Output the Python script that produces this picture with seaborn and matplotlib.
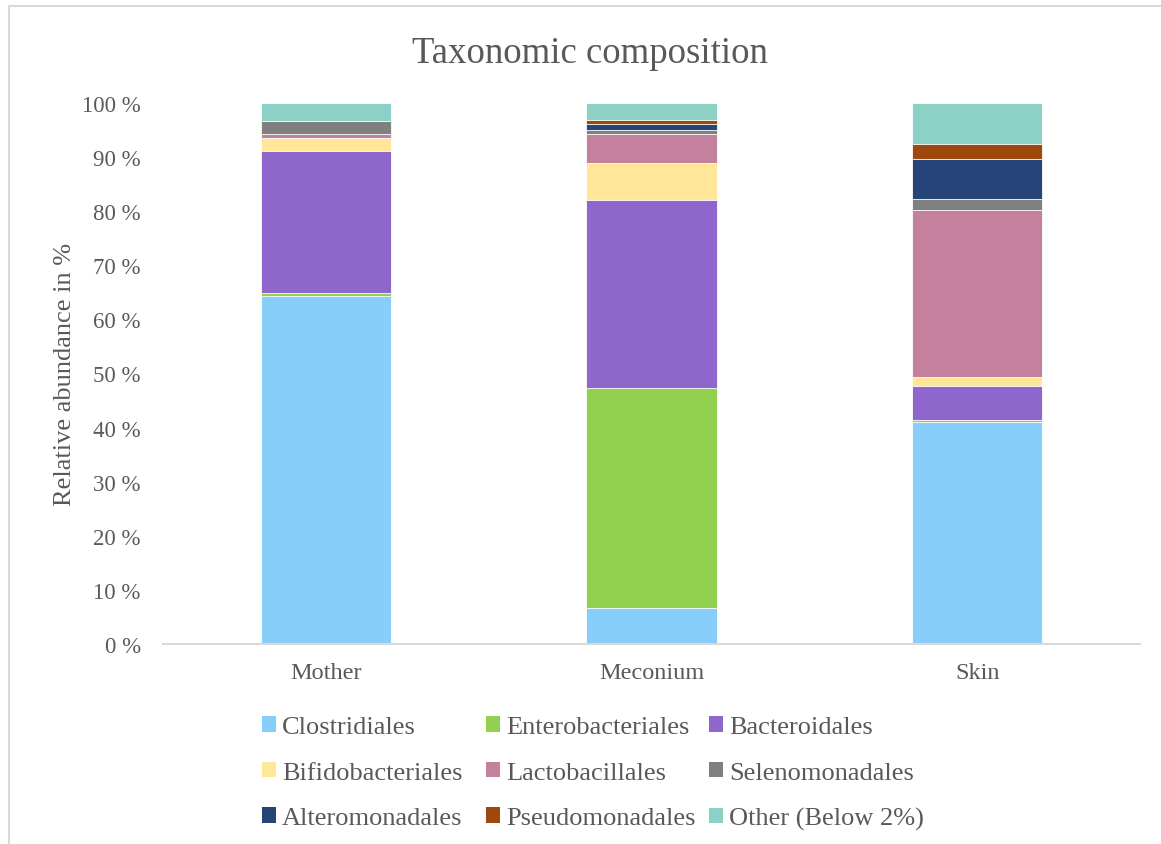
import matplotlib
matplotlib.use("Agg")
import matplotlib.pyplot as plt
from matplotlib.patches import Patch
from matplotlib.lines import Line2D
import numpy as np
import pandas as pd
import seaborn as sns

# Relative abundance (%) of bacterial orders per sample type
samples = ["Mother", "Meconium", "Skin"]
orders = ["Clostridiales", "Enterobacteriales", "Bacteroidales",
          "Bifidobacteriales", "Lactobacillales", "Selenomonadales",
          "Alteromonadales", "Pseudomonadales", "Other (Below 2%)"]
clostridiales = [64.3, 6.6, 41.1]
enterobacteriales = [0.6, 40.7, 0.3]
bacteroidales = [26.2, 34.8, 6.2]
bifidobacteriales = [2.5, 6.9, 1.7]
lactobacillales = [0.7, 5.3, 30.9]
selenomonadales = [2.4, 0.7, 2.1]
alteromonadales = [0.0, 1.2, 7.3]
pseudomonadales = [0.0, 0.6, 2.8]
other = [3.3, 3.2, 7.6]
y_ticks = [0, 10, 20, 30, 40, 50, 60, 70, 80, 90, 100]

colors = ["#87CEFA", "#92D050", "#8F66CC", "#FFE699", "#C4819E",
          "#808080", "#264478", "#9E480E", "#8DD0C5"]

series = [clostridiales, enterobacteriales, bacteroidales, bifidobacteriales,
          lactobacillales, selenomonadales, alteromonadales, pseudomonadales, other]
df = pd.DataFrame(dict(zip(orders, series)), index=samples)
cum = df.cumsum(axis=1)

sns.set_theme(style="white")
plt.rcParams["font.family"] = ["Liberation Serif", "DejaVu Serif"]
text_color = "#595959"

fig = plt.figure(figsize=(11.61, 8.45), dpi=100)
ax = fig.add_axes([163 / 1161, 1 - 645 / 845, (1140 - 163) / 1161, (645 - 104) / 845])

# Stack by overdrawing cumulative totals, topmost series first
for name, color in reversed(list(zip(orders, colors))):
    part = pd.DataFrame({"sample": samples, "top": cum[name].values})
    sns.barplot(data=part, x="sample", y="top", order=samples, color=color,
                saturation=1, width=0.4, errorbar=None, ax=ax,
                edgecolor="white", linewidth=0.6)

ax.set_xlim(-0.5, 2.5)
ax.set_ylim(0, 100)
ax.set_yticks(y_ticks)
ax.set_yticklabels([f"{t} %" for t in y_ticks])
ax.tick_params(axis="y", length=0, pad=16, labelsize=16.5, labelcolor=text_color)
ax.tick_params(axis="x", length=0, pad=13, labelsize=17.5, labelcolor=text_color)
ax.set_xlabel("")
ax.set_ylabel("Relative abundance in %", fontsize=19, color=text_color)
ax.yaxis.set_label_coords((76 - 163) / 977, 0.5)
for side in ["left", "right", "top"]:
    ax.spines[side].set_visible(False)
ax.spines["bottom"].set_color("#D9D9D9")
ax.spines["bottom"].set_linewidth(1.5)
ax.grid(False)

fig.text(590 / 1161, 1 - 54 / 845, "Taxonomic composition", ha="center", va="center",
         fontsize=26.5, color=text_color)

# Legend: three columns, each a separate legend at a fixed x position
col_x = [262, 486, 709]
for c, x0 in enumerate(col_x):
    ids = [c, c + 3, c + 6]
    leg = fig.legend([Patch(facecolor=colors[i], edgecolor="none") for i in ids],
                     [orders[i] for i in ids], ncol=1,
                     loc="upper left", bbox_to_anchor=(x0 / 1161, 1 - 717 / 845),
                     frameon=False, fontsize=19, handlelength=0.53, handleheight=0.53,
                     handletextpad=0.23, labelspacing=0.89,
                     borderpad=0, borderaxespad=0)
    for t in leg.get_texts():
        t.set_color(text_color)

# Chart area border
fig.add_artist(Line2D([9 / 1161, 9 / 1161], [0, 1 - 7 / 845], color="#D9D9D9", lw=1.5,
                      transform=fig.transFigure))
fig.add_artist(Line2D([9 / 1161, 1], [1 - 7 / 845, 1 - 7 / 845], color="#D9D9D9", lw=1.5,
                      transform=fig.transFigure))

fig.savefig("out.png", dpi=100)
